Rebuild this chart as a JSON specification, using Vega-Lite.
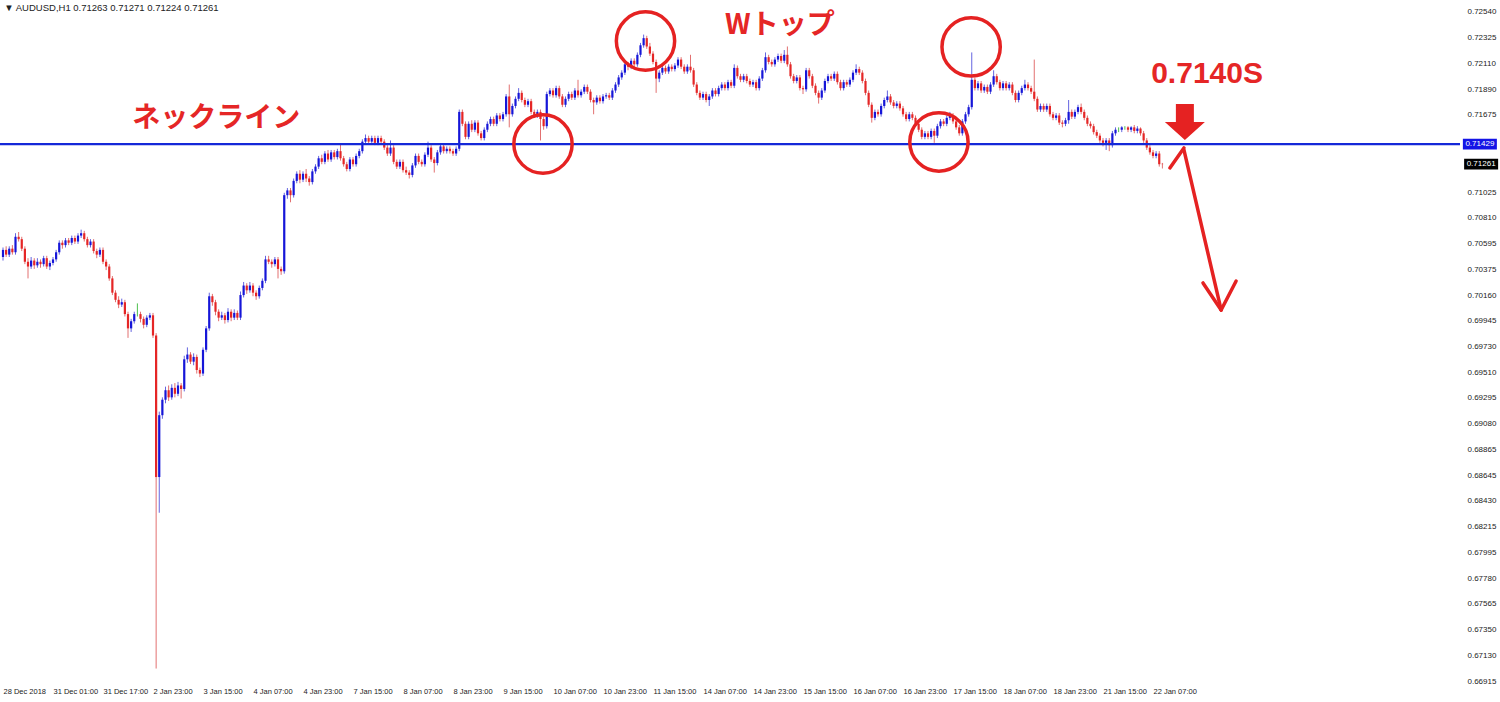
{
"$schema":"https://vega.github.io/schema/vega-lite/v6.json",
"width":1460,"height":682,
"autosize":{"type":"none"},
"padding":{"left":0,"top":2,"right":40,"bottom":18},
"background":"white",
"config":{"view":{"stroke":null},"axis":{"labelFont":"Liberation Sans","labelFontSize":8,"labelColor":"#222","grid":false,"ticks":false,"domain":false}},
"datasets":{
"bars":[
{"i":0,"o":0.7048,"h":0.7056,"l":0.7045,"c":0.7054},{"i":1,"o":0.7054,"h":0.7057,"l":0.7048,"c":0.7050},{"i":2,"o":0.7050,"h":0.7057,"l":0.7048,"c":0.7055},{"i":3,"o":0.7055,"h":0.7058,"l":0.7050,"c":0.7052},{"i":4,"o":0.7052,"h":0.7068,"l":0.7050,"c":0.7065},{"i":5,"o":0.7065,"h":0.7069,"l":0.7061,"c":0.7063},{"i":6,"o":0.7063,"h":0.7065,"l":0.7053,"c":0.7055},{"i":7,"o":0.7055,"h":0.7057,"l":0.7042,"c":0.7044},{"i":8,"o":0.7044,"h":0.7047,"l":0.7030,"c":0.7040},{"i":9,"o":0.7040,"h":0.7048,"l":0.7038,"c":0.7045},
{"i":10,"o":0.7045,"h":0.7047,"l":0.7038,"c":0.7041},{"i":11,"o":0.7041,"h":0.7047,"l":0.7039,"c":0.7044},{"i":12,"o":0.7044,"h":0.7046,"l":0.7039,"c":0.7042},{"i":13,"o":0.7042,"h":0.7049,"l":0.7040,"c":0.7047},{"i":14,"o":0.7047,"h":0.7049,"l":0.7038,"c":0.7040},{"i":15,"o":0.7040,"h":0.7045,"l":0.7037,"c":0.7043},{"i":16,"o":0.7043,"h":0.7048,"l":0.7041,"c":0.7046},{"i":17,"o":0.7046,"h":0.7054,"l":0.7044,"c":0.7052},{"i":18,"o":0.7052,"h":0.7062,"l":0.7050,"c":0.7060},{"i":19,"o":0.7060,"h":0.7062,"l":0.7055,"c":0.7058},
{"i":20,"o":0.7058,"h":0.7064,"l":0.7056,"c":0.7062},{"i":21,"o":0.7062,"h":0.7064,"l":0.7058,"c":0.7060},{"i":22,"o":0.7060,"h":0.7066,"l":0.7058,"c":0.7064},{"i":23,"o":0.7064,"h":0.7066,"l":0.7059,"c":0.7061},{"i":24,"o":0.7061,"h":0.7068,"l":0.7059,"c":0.7066},{"i":25,"o":0.7066,"h":0.7071,"l":0.7064,"c":0.7068},{"i":26,"o":0.7068,"h":0.7070,"l":0.7061,"c":0.7063},{"i":27,"o":0.7063,"h":0.7065,"l":0.7056,"c":0.7058},{"i":28,"o":0.7058,"h":0.7063,"l":0.7056,"c":0.7061},{"i":29,"o":0.7061,"h":0.7063,"l":0.7051,"c":0.7053},
{"i":30,"o":0.7053,"h":0.7055,"l":0.7047,"c":0.7050},{"i":31,"o":0.7050,"h":0.7056,"l":0.7048,"c":0.7054},{"i":32,"o":0.7054,"h":0.7056,"l":0.7042,"c":0.7044},{"i":33,"o":0.7044,"h":0.7046,"l":0.7037,"c":0.7040},{"i":34,"o":0.7040,"h":0.7042,"l":0.7028,"c":0.7030},{"i":35,"o":0.7030,"h":0.7032,"l":0.7016,"c":0.7018},{"i":36,"o":0.7018,"h":0.7020,"l":0.7010,"c":0.7012},{"i":37,"o":0.7012,"h":0.7015,"l":0.7005,"c":0.7008},{"i":38,"o":0.7008,"h":0.7013,"l":0.7006,"c":0.7010},{"i":39,"o":0.7010,"h":0.7012,"l":0.6998,"c":0.7000},
{"i":40,"o":0.7000,"h":0.7002,"l":0.6980,"c":0.6988},{"i":41,"o":0.6988,"h":0.6996,"l":0.6985,"c":0.6994},{"i":42,"o":0.6994,"h":0.7002,"l":0.6992,"c":0.7000},{"i":43,"o":0.7000,"h":0.7009,"l":0.6998,"c":0.7000},{"i":44,"o":0.7000,"h":0.7002,"l":0.6993,"c":0.6996},{"i":45,"o":0.6996,"h":0.6998,"l":0.6988,"c":0.6991},{"i":46,"o":0.6991,"h":0.6999,"l":0.6989,"c":0.6997},{"i":47,"o":0.6997,"h":0.7001,"l":0.6995,"c":0.6999},{"i":48,"o":0.6999,"h":0.7001,"l":0.6980,"c":0.6982},{"i":49,"o":0.6982,"h":0.6984,"l":0.6702,"c":0.6863},
{"i":50,"o":0.6863,"h":0.6918,"l":0.6833,"c":0.6915},{"i":51,"o":0.6915,"h":0.6930,"l":0.6912,"c":0.6928},{"i":52,"o":0.6928,"h":0.6939,"l":0.6925,"c":0.6936},{"i":53,"o":0.6936,"h":0.6940,"l":0.6927,"c":0.6930},{"i":54,"o":0.6930,"h":0.6941,"l":0.6928,"c":0.6938},{"i":55,"o":0.6938,"h":0.6942,"l":0.6930,"c":0.6933},{"i":56,"o":0.6933,"h":0.6943,"l":0.6931,"c":0.6940},{"i":57,"o":0.6940,"h":0.6942,"l":0.6929,"c":0.6937},{"i":58,"o":0.6937,"h":0.6965,"l":0.6935,"c":0.6962},{"i":59,"o":0.6962,"h":0.6972,"l":0.6959,"c":0.6966},
{"i":60,"o":0.6966,"h":0.6968,"l":0.6958,"c":0.6960},{"i":61,"o":0.6960,"h":0.6967,"l":0.6957,"c":0.6964},{"i":62,"o":0.6964,"h":0.6966,"l":0.6950,"c":0.6953},{"i":63,"o":0.6953,"h":0.6955,"l":0.6947,"c":0.6950},{"i":64,"o":0.6950,"h":0.6972,"l":0.6948,"c":0.6970},{"i":65,"o":0.6970,"h":0.6990,"l":0.6968,"c":0.6988},{"i":66,"o":0.6988,"h":0.7018,"l":0.6986,"c":0.7015},{"i":67,"o":0.7015,"h":0.7017,"l":0.7007,"c":0.7010},{"i":68,"o":0.7010,"h":0.7012,"l":0.6999,"c":0.7002},{"i":69,"o":0.7002,"h":0.7004,"l":0.6994,"c":0.6997},
{"i":70,"o":0.6997,"h":0.7002,"l":0.6995,"c":0.6999},{"i":71,"o":0.6999,"h":0.7001,"l":0.6992,"c":0.6995},{"i":72,"o":0.6995,"h":0.7005,"l":0.6993,"c":0.7002},{"i":73,"o":0.7002,"h":0.7004,"l":0.6994,"c":0.6997},{"i":74,"o":0.6997,"h":0.7004,"l":0.6995,"c":0.7001},{"i":75,"o":0.7001,"h":0.7003,"l":0.6995,"c":0.6997},{"i":76,"o":0.6997,"h":0.7019,"l":0.6995,"c":0.7016},{"i":77,"o":0.7016,"h":0.7027,"l":0.7014,"c":0.7024},{"i":78,"o":0.7024,"h":0.7026,"l":0.7017,"c":0.7020},{"i":79,"o":0.7020,"h":0.7027,"l":0.7018,"c":0.7024},
{"i":80,"o":0.7024,"h":0.7026,"l":0.7015,"c":0.7018},{"i":81,"o":0.7018,"h":0.7020,"l":0.7012,"c":0.7015},{"i":82,"o":0.7015,"h":0.7024,"l":0.7013,"c":0.7022},{"i":83,"o":0.7022,"h":0.7030,"l":0.7020,"c":0.7028},{"i":84,"o":0.7028,"h":0.7049,"l":0.7026,"c":0.7046},{"i":85,"o":0.7046,"h":0.7049,"l":0.7042,"c":0.7044},{"i":86,"o":0.7044,"h":0.7046,"l":0.7039,"c":0.7042},{"i":87,"o":0.7042,"h":0.7048,"l":0.7040,"c":0.7046},{"i":88,"o":0.7046,"h":0.7048,"l":0.7030,"c":0.7038},{"i":89,"o":0.7038,"h":0.7040,"l":0.7033,"c":0.7036},
{"i":90,"o":0.7036,"h":0.7102,"l":0.7034,"c":0.7100},{"i":91,"o":0.7100,"h":0.7106,"l":0.7097,"c":0.7104},{"i":92,"o":0.7104,"h":0.7106,"l":0.7094,"c":0.7100},{"i":93,"o":0.7100,"h":0.7114,"l":0.7098,"c":0.7112},{"i":94,"o":0.7112,"h":0.7120,"l":0.7110,"c":0.7118},{"i":95,"o":0.7118,"h":0.7121,"l":0.7110,"c":0.7113},{"i":96,"o":0.7113,"h":0.7120,"l":0.7111,"c":0.7118},{"i":97,"o":0.7118,"h":0.7122,"l":0.7111,"c":0.7114},{"i":98,"o":0.7114,"h":0.7116,"l":0.7108,"c":0.7111},{"i":99,"o":0.7111,"h":0.7122,"l":0.7109,"c":0.7120},
{"i":100,"o":0.7120,"h":0.7126,"l":0.7118,"c":0.7124},{"i":101,"o":0.7124,"h":0.7133,"l":0.7122,"c":0.7131},{"i":102,"o":0.7131,"h":0.7134,"l":0.7126,"c":0.7128},{"i":103,"o":0.7128,"h":0.7137,"l":0.7126,"c":0.7135},{"i":104,"o":0.7135,"h":0.7138,"l":0.7128,"c":0.7130},{"i":105,"o":0.7130,"h":0.7138,"l":0.7128,"c":0.7136},{"i":106,"o":0.7136,"h":0.7138,"l":0.7130,"c":0.7132},{"i":107,"o":0.7132,"h":0.7139,"l":0.7130,"c":0.7137},{"i":108,"o":0.7137,"h":0.7143,"l":0.7129,"c":0.7131},{"i":109,"o":0.7131,"h":0.7133,"l":0.7124,"c":0.7126},
{"i":110,"o":0.7126,"h":0.7128,"l":0.7120,"c":0.7122},{"i":111,"o":0.7122,"h":0.7132,"l":0.7120,"c":0.7130},{"i":112,"o":0.7130,"h":0.7132,"l":0.7124,"c":0.7126},{"i":113,"o":0.7126,"h":0.7135,"l":0.7124,"c":0.7133},{"i":114,"o":0.7133,"h":0.7139,"l":0.7131,"c":0.7137},{"i":115,"o":0.7137,"h":0.7147,"l":0.7135,"c":0.7145},{"i":116,"o":0.7145,"h":0.7151,"l":0.7143,"c":0.7148},{"i":117,"o":0.7148,"h":0.7150,"l":0.7143,"c":0.7145},{"i":118,"o":0.7145,"h":0.7150,"l":0.7143,"c":0.7148},{"i":119,"o":0.7148,"h":0.7150,"l":0.7142,"c":0.7144},
{"i":120,"o":0.7144,"h":0.7150,"l":0.7142,"c":0.7148},{"i":121,"o":0.7148,"h":0.7150,"l":0.7143,"c":0.7145},{"i":122,"o":0.7145,"h":0.7147,"l":0.7138,"c":0.7140},{"i":123,"o":0.7140,"h":0.7142,"l":0.7133,"c":0.7135},{"i":124,"o":0.7135,"h":0.7146,"l":0.7133,"c":0.7140},{"i":125,"o":0.7140,"h":0.7142,"l":0.7126,"c":0.7128},{"i":126,"o":0.7128,"h":0.7130,"l":0.7122,"c":0.7124},{"i":127,"o":0.7124,"h":0.7130,"l":0.7122,"c":0.7128},{"i":128,"o":0.7128,"h":0.7130,"l":0.7119,"c":0.7121},{"i":129,"o":0.7121,"h":0.7124,"l":0.7117,"c":0.7119},
{"i":130,"o":0.7119,"h":0.7121,"l":0.7114,"c":0.7117},{"i":131,"o":0.7117,"h":0.7127,"l":0.7115,"c":0.7125},{"i":132,"o":0.7125,"h":0.7135,"l":0.7123,"c":0.7133},{"i":133,"o":0.7133,"h":0.7135,"l":0.7126,"c":0.7128},{"i":134,"o":0.7128,"h":0.7130,"l":0.7124,"c":0.7126},{"i":135,"o":0.7126,"h":0.7136,"l":0.7124,"c":0.7134},{"i":136,"o":0.7134,"h":0.7145,"l":0.7132,"c":0.7140},{"i":137,"o":0.7140,"h":0.7142,"l":0.7128,"c":0.7130},{"i":138,"o":0.7130,"h":0.7132,"l":0.7119,"c":0.7127},{"i":139,"o":0.7127,"h":0.7138,"l":0.7125,"c":0.7136},
{"i":140,"o":0.7136,"h":0.7143,"l":0.7134,"c":0.7141},{"i":141,"o":0.7141,"h":0.7143,"l":0.7135,"c":0.7137},{"i":142,"o":0.7137,"h":0.7141,"l":0.7135,"c":0.7139},{"i":143,"o":0.7139,"h":0.7141,"l":0.7135,"c":0.7137},{"i":144,"o":0.7137,"h":0.7139,"l":0.7133,"c":0.7135},{"i":145,"o":0.7135,"h":0.7141,"l":0.7133,"c":0.7139},{"i":146,"o":0.7139,"h":0.7172,"l":0.7137,"c":0.7170},{"i":147,"o":0.7170,"h":0.7172,"l":0.7158,"c":0.7160},{"i":148,"o":0.7160,"h":0.7162,"l":0.7147,"c":0.7149},{"i":149,"o":0.7149,"h":0.7162,"l":0.7147,"c":0.7160},
{"i":150,"o":0.7160,"h":0.7163,"l":0.7153,"c":0.7155},{"i":151,"o":0.7155,"h":0.7163,"l":0.7153,"c":0.7161},{"i":152,"o":0.7161,"h":0.7163,"l":0.7150,"c":0.7152},{"i":153,"o":0.7152,"h":0.7154,"l":0.7146,"c":0.7148},{"i":154,"o":0.7148,"h":0.7157,"l":0.7146,"c":0.7155},{"i":155,"o":0.7155,"h":0.7162,"l":0.7153,"c":0.7160},{"i":156,"o":0.7160,"h":0.7166,"l":0.7158,"c":0.7164},{"i":157,"o":0.7164,"h":0.7166,"l":0.7158,"c":0.7160},{"i":158,"o":0.7160,"h":0.7169,"l":0.7158,"c":0.7167},{"i":159,"o":0.7167,"h":0.7169,"l":0.7162,"c":0.7164},
{"i":160,"o":0.7164,"h":0.7170,"l":0.7162,"c":0.7168},{"i":161,"o":0.7168,"h":0.7185,"l":0.7166,"c":0.7183},{"i":162,"o":0.7183,"h":0.7193,"l":0.7157,"c":0.7168},{"i":163,"o":0.7168,"h":0.7177,"l":0.7166,"c":0.7175},{"i":164,"o":0.7175,"h":0.7183,"l":0.7173,"c":0.7181},{"i":165,"o":0.7181,"h":0.7190,"l":0.7179,"c":0.7186},{"i":166,"o":0.7186,"h":0.7188,"l":0.7178,"c":0.7180},{"i":167,"o":0.7180,"h":0.7182,"l":0.7174,"c":0.7176},{"i":168,"o":0.7176,"h":0.7181,"l":0.7174,"c":0.7179},{"i":169,"o":0.7179,"h":0.7181,"l":0.7168,"c":0.7170},
{"i":170,"o":0.7170,"h":0.7172,"l":0.7165,"c":0.7167},{"i":171,"o":0.7167,"h":0.7172,"l":0.7165,"c":0.7170},{"i":172,"o":0.7170,"h":0.7172,"l":0.7146,"c":0.7164},{"i":173,"o":0.7164,"h":0.7166,"l":0.7155,"c":0.7158},{"i":174,"o":0.7158,"h":0.7187,"l":0.7156,"c":0.7185},{"i":175,"o":0.7185,"h":0.7190,"l":0.7183,"c":0.7188},{"i":176,"o":0.7188,"h":0.7190,"l":0.7182,"c":0.7184},{"i":177,"o":0.7184,"h":0.7192,"l":0.7182,"c":0.7190},{"i":178,"o":0.7190,"h":0.7192,"l":0.7181,"c":0.7183},{"i":179,"o":0.7183,"h":0.7185,"l":0.7174,"c":0.7176},
{"i":180,"o":0.7176,"h":0.7183,"l":0.7174,"c":0.7181},{"i":181,"o":0.7181,"h":0.7187,"l":0.7179,"c":0.7185},{"i":182,"o":0.7185,"h":0.7187,"l":0.7180,"c":0.7182},{"i":183,"o":0.7182,"h":0.7190,"l":0.7180,"c":0.7188},{"i":184,"o":0.7188,"h":0.7197,"l":0.7182,"c":0.7184},{"i":185,"o":0.7184,"h":0.7189,"l":0.7182,"c":0.7187},{"i":186,"o":0.7187,"h":0.7193,"l":0.7185,"c":0.7191},{"i":187,"o":0.7191,"h":0.7193,"l":0.7185,"c":0.7187},{"i":188,"o":0.7187,"h":0.7189,"l":0.7178,"c":0.7180},{"i":189,"o":0.7180,"h":0.7182,"l":0.7168,"c":0.7178},
{"i":190,"o":0.7178,"h":0.7184,"l":0.7176,"c":0.7182},{"i":191,"o":0.7182,"h":0.7184,"l":0.7177,"c":0.7179},{"i":192,"o":0.7179,"h":0.7185,"l":0.7177,"c":0.7183},{"i":193,"o":0.7183,"h":0.7186,"l":0.7181,"c":0.7184},{"i":194,"o":0.7184,"h":0.7186,"l":0.7180,"c":0.7182},{"i":195,"o":0.7182,"h":0.7190,"l":0.7180,"c":0.7188},{"i":196,"o":0.7188,"h":0.7195,"l":0.7186,"c":0.7193},{"i":197,"o":0.7193,"h":0.7201,"l":0.7191,"c":0.7199},{"i":198,"o":0.7199,"h":0.7205,"l":0.7197,"c":0.7203},{"i":199,"o":0.7203,"h":0.7212,"l":0.7201,"c":0.7210},
{"i":200,"o":0.7210,"h":0.7212,"l":0.7205,"c":0.7208},{"i":201,"o":0.7208,"h":0.7215,"l":0.7206,"c":0.7213},{"i":202,"o":0.7213,"h":0.7215,"l":0.7208,"c":0.7210},{"i":203,"o":0.7210,"h":0.7220,"l":0.7208,"c":0.7218},{"i":204,"o":0.7218,"h":0.7228,"l":0.7216,"c":0.7226},{"i":205,"o":0.7226,"h":0.7235,"l":0.7224,"c":0.7232},{"i":206,"o":0.7232,"h":0.7234,"l":0.7223,"c":0.7225},{"i":207,"o":0.7225,"h":0.7228,"l":0.7217,"c":0.7219},{"i":208,"o":0.7219,"h":0.7221,"l":0.7210,"c":0.7212},{"i":209,"o":0.7212,"h":0.7214,"l":0.7186,"c":0.7198},
{"i":210,"o":0.7198,"h":0.7205,"l":0.7195,"c":0.7203},{"i":211,"o":0.7203,"h":0.7209,"l":0.7201,"c":0.7207},{"i":212,"o":0.7207,"h":0.7209,"l":0.7202,"c":0.7204},{"i":213,"o":0.7204,"h":0.7210,"l":0.7202,"c":0.7208},{"i":214,"o":0.7208,"h":0.7210,"l":0.7204,"c":0.7206},{"i":215,"o":0.7206,"h":0.7211,"l":0.7204,"c":0.7209},{"i":216,"o":0.7209,"h":0.7216,"l":0.7207,"c":0.7214},{"i":217,"o":0.7214,"h":0.7216,"l":0.7206,"c":0.7208},{"i":218,"o":0.7208,"h":0.7210,"l":0.7202,"c":0.7204},{"i":219,"o":0.7204,"h":0.7210,"l":0.7202,"c":0.7208},
{"i":220,"o":0.7208,"h":0.7218,"l":0.7203,"c":0.7205},{"i":221,"o":0.7205,"h":0.7207,"l":0.7191,"c":0.7193},{"i":222,"o":0.7193,"h":0.7195,"l":0.7184,"c":0.7186},{"i":223,"o":0.7186,"h":0.7188,"l":0.7180,"c":0.7182},{"i":224,"o":0.7182,"h":0.7187,"l":0.7180,"c":0.7185},{"i":225,"o":0.7185,"h":0.7187,"l":0.7178,"c":0.7180},{"i":226,"o":0.7180,"h":0.7185,"l":0.7175,"c":0.7183},{"i":227,"o":0.7183,"h":0.7190,"l":0.7181,"c":0.7188},{"i":228,"o":0.7188,"h":0.7190,"l":0.7183,"c":0.7185},{"i":229,"o":0.7185,"h":0.7192,"l":0.7183,"c":0.7190},
{"i":230,"o":0.7190,"h":0.7195,"l":0.7188,"c":0.7193},{"i":231,"o":0.7193,"h":0.7195,"l":0.7188,"c":0.7190},{"i":232,"o":0.7190,"h":0.7197,"l":0.7188,"c":0.7195},{"i":233,"o":0.7195,"h":0.7197,"l":0.7190,"c":0.7192},{"i":234,"o":0.7192,"h":0.7210,"l":0.7190,"c":0.7207},{"i":235,"o":0.7207,"h":0.7209,"l":0.7198,"c":0.7200},{"i":236,"o":0.7200,"h":0.7202,"l":0.7195,"c":0.7197},{"i":237,"o":0.7197,"h":0.7202,"l":0.7195,"c":0.7200},{"i":238,"o":0.7200,"h":0.7202,"l":0.7194,"c":0.7196},{"i":239,"o":0.7196,"h":0.7198,"l":0.7191,"c":0.7193},
{"i":240,"o":0.7193,"h":0.7197,"l":0.7191,"c":0.7195},{"i":241,"o":0.7195,"h":0.7197,"l":0.7188,"c":0.7190},{"i":242,"o":0.7190,"h":0.7200,"l":0.7188,"c":0.7198},{"i":243,"o":0.7198,"h":0.7207,"l":0.7196,"c":0.7205},{"i":244,"o":0.7205,"h":0.7220,"l":0.7203,"c":0.7216},{"i":245,"o":0.7216,"h":0.7218,"l":0.7210,"c":0.7212},{"i":246,"o":0.7212,"h":0.7214,"l":0.7208,"c":0.7210},{"i":247,"o":0.7210,"h":0.7216,"l":0.7208,"c":0.7214},{"i":248,"o":0.7214,"h":0.7219,"l":0.7212,"c":0.7217},{"i":249,"o":0.7217,"h":0.7219,"l":0.7211,"c":0.7213},
{"i":250,"o":0.7213,"h":0.7222,"l":0.7211,"c":0.7218},{"i":251,"o":0.7218,"h":0.7225,"l":0.7208,"c":0.7210},{"i":252,"o":0.7210,"h":0.7212,"l":0.7198,"c":0.7200},{"i":253,"o":0.7200,"h":0.7202,"l":0.7194,"c":0.7196},{"i":254,"o":0.7196,"h":0.7201,"l":0.7194,"c":0.7199},{"i":255,"o":0.7199,"h":0.7201,"l":0.7188,"c":0.7190},{"i":256,"o":0.7190,"h":0.7192,"l":0.7185,"c":0.7189},{"i":257,"o":0.7189,"h":0.7207,"l":0.7187,"c":0.7205},{"i":258,"o":0.7205,"h":0.7207,"l":0.7198,"c":0.7200},{"i":259,"o":0.7200,"h":0.7202,"l":0.7190,"c":0.7192},
{"i":260,"o":0.7192,"h":0.7194,"l":0.7184,"c":0.7186},{"i":261,"o":0.7186,"h":0.7188,"l":0.7177,"c":0.7182},{"i":262,"o":0.7182,"h":0.7190,"l":0.7180,"c":0.7188},{"i":263,"o":0.7188,"h":0.7198,"l":0.7186,"c":0.7196},{"i":264,"o":0.7196,"h":0.7202,"l":0.7194,"c":0.7200},{"i":265,"o":0.7200,"h":0.7202,"l":0.7196,"c":0.7198},{"i":266,"o":0.7198,"h":0.7204,"l":0.7196,"c":0.7202},{"i":267,"o":0.7202,"h":0.7204,"l":0.7193,"c":0.7195},{"i":268,"o":0.7195,"h":0.7197,"l":0.7188,"c":0.7190},{"i":269,"o":0.7190,"h":0.7197,"l":0.7188,"c":0.7195},
{"i":270,"o":0.7195,"h":0.7197,"l":0.7191,"c":0.7193},{"i":271,"o":0.7193,"h":0.7199,"l":0.7191,"c":0.7197},{"i":272,"o":0.7197,"h":0.7205,"l":0.7195,"c":0.7203},{"i":273,"o":0.7203,"h":0.7210,"l":0.7201,"c":0.7206},{"i":274,"o":0.7206,"h":0.7208,"l":0.7201,"c":0.7203},{"i":275,"o":0.7203,"h":0.7205,"l":0.7194,"c":0.7196},{"i":276,"o":0.7196,"h":0.7198,"l":0.7184,"c":0.7186},{"i":277,"o":0.7186,"h":0.7188,"l":0.7174,"c":0.7176},{"i":278,"o":0.7176,"h":0.7178,"l":0.7161,"c":0.7165},{"i":279,"o":0.7165,"h":0.7172,"l":0.7163,"c":0.7170},
{"i":280,"o":0.7170,"h":0.7172,"l":0.7166,"c":0.7168},{"i":281,"o":0.7168,"h":0.7177,"l":0.7166,"c":0.7175},{"i":282,"o":0.7175,"h":0.7182,"l":0.7173,"c":0.7180},{"i":283,"o":0.7180,"h":0.7188,"l":0.7178,"c":0.7183},{"i":284,"o":0.7183,"h":0.7185,"l":0.7176,"c":0.7178},{"i":285,"o":0.7178,"h":0.7180,"l":0.7173,"c":0.7175},{"i":286,"o":0.7175,"h":0.7179,"l":0.7173,"c":0.7177},{"i":287,"o":0.7177,"h":0.7179,"l":0.7171,"c":0.7173},{"i":288,"o":0.7173,"h":0.7175,"l":0.7166,"c":0.7168},{"i":289,"o":0.7168,"h":0.7170,"l":0.7162,"c":0.7164},
{"i":290,"o":0.7164,"h":0.7170,"l":0.7162,"c":0.7168},{"i":291,"o":0.7168,"h":0.7170,"l":0.7163,"c":0.7165},{"i":292,"o":0.7165,"h":0.7167,"l":0.7158,"c":0.7160},{"i":293,"o":0.7160,"h":0.7162,"l":0.7153,"c":0.7155},{"i":294,"o":0.7155,"h":0.7157,"l":0.7147,"c":0.7149},{"i":295,"o":0.7149,"h":0.7154,"l":0.7147,"c":0.7152},{"i":296,"o":0.7152,"h":0.7154,"l":0.7147,"c":0.7149},{"i":297,"o":0.7149,"h":0.7156,"l":0.7147,"c":0.7154},{"i":298,"o":0.7154,"h":0.7156,"l":0.7144,"c":0.7150},{"i":299,"o":0.7150,"h":0.7160,"l":0.7148,"c":0.7158},
{"i":300,"o":0.7158,"h":0.7164,"l":0.7156,"c":0.7162},{"i":301,"o":0.7162,"h":0.7164,"l":0.7158,"c":0.7160},{"i":302,"o":0.7160,"h":0.7167,"l":0.7158,"c":0.7165},{"i":303,"o":0.7165,"h":0.7170,"l":0.7163,"c":0.7167},{"i":304,"o":0.7167,"h":0.7169,"l":0.7160,"c":0.7162},{"i":305,"o":0.7162,"h":0.7164,"l":0.7155,"c":0.7157},{"i":306,"o":0.7157,"h":0.7159,"l":0.7150,"c":0.7152},{"i":307,"o":0.7152,"h":0.7164,"l":0.7150,"c":0.7162},{"i":308,"o":0.7162,"h":0.7170,"l":0.7160,"c":0.7168},{"i":309,"o":0.7168,"h":0.7176,"l":0.7166,"c":0.7174},
{"i":310,"o":0.7174,"h":0.7220,"l":0.7172,"c":0.7197},{"i":311,"o":0.7197,"h":0.7199,"l":0.7188,"c":0.7190},{"i":312,"o":0.7190,"h":0.7196,"l":0.7188,"c":0.7194},{"i":313,"o":0.7194,"h":0.7196,"l":0.7186,"c":0.7188},{"i":314,"o":0.7188,"h":0.7193,"l":0.7186,"c":0.7191},{"i":315,"o":0.7191,"h":0.7193,"l":0.7185,"c":0.7187},{"i":316,"o":0.7187,"h":0.7195,"l":0.7185,"c":0.7193},{"i":317,"o":0.7193,"h":0.7205,"l":0.7191,"c":0.7200},{"i":318,"o":0.7200,"h":0.7202,"l":0.7193,"c":0.7195},{"i":319,"o":0.7195,"h":0.7197,"l":0.7188,"c":0.7190},
{"i":320,"o":0.7190,"h":0.7196,"l":0.7188,"c":0.7194},{"i":321,"o":0.7194,"h":0.7196,"l":0.7188,"c":0.7190},{"i":322,"o":0.7190,"h":0.7195,"l":0.7188,"c":0.7193},{"i":323,"o":0.7193,"h":0.7195,"l":0.7184,"c":0.7186},{"i":324,"o":0.7186,"h":0.7188,"l":0.7178,"c":0.7180},{"i":325,"o":0.7180,"h":0.7188,"l":0.7178,"c":0.7186},{"i":326,"o":0.7186,"h":0.7192,"l":0.7184,"c":0.7190},{"i":327,"o":0.7190,"h":0.7197,"l":0.7188,"c":0.7193},{"i":328,"o":0.7193,"h":0.7195,"l":0.7188,"c":0.7190},{"i":329,"o":0.7190,"h":0.7192,"l":0.7185,"c":0.7187},
{"i":330,"o":0.7187,"h":0.7214,"l":0.7179,"c":0.7181},{"i":331,"o":0.7181,"h":0.7183,"l":0.7170,"c":0.7172},{"i":332,"o":0.7172,"h":0.7177,"l":0.7170,"c":0.7175},{"i":333,"o":0.7175,"h":0.7177,"l":0.7170,"c":0.7172},{"i":334,"o":0.7172,"h":0.7177,"l":0.7170,"c":0.7175},{"i":335,"o":0.7175,"h":0.7177,"l":0.7166,"c":0.7168},{"i":336,"o":0.7168,"h":0.7170,"l":0.7163,"c":0.7165},{"i":337,"o":0.7165,"h":0.7169,"l":0.7163,"c":0.7167},{"i":338,"o":0.7167,"h":0.7169,"l":0.7159,"c":0.7161},{"i":339,"o":0.7161,"h":0.7163,"l":0.7157,"c":0.7160},
{"i":340,"o":0.7160,"h":0.7165,"l":0.7158,"c":0.7163},{"i":341,"o":0.7163,"h":0.7180,"l":0.7160,"c":0.7170},{"i":342,"o":0.7170,"h":0.7172,"l":0.7164,"c":0.7166},{"i":343,"o":0.7166,"h":0.7172,"l":0.7164,"c":0.7170},{"i":344,"o":0.7170,"h":0.7176,"l":0.7168,"c":0.7174},{"i":345,"o":0.7174,"h":0.7177,"l":0.7168,"c":0.7170},{"i":346,"o":0.7170,"h":0.7172,"l":0.7163,"c":0.7165},{"i":347,"o":0.7165,"h":0.7167,"l":0.7158,"c":0.7160},{"i":348,"o":0.7160,"h":0.7162,"l":0.7156,"c":0.7158},{"i":349,"o":0.7158,"h":0.7160,"l":0.7151,"c":0.7153},
{"i":350,"o":0.7153,"h":0.7155,"l":0.7148,"c":0.7150},{"i":351,"o":0.7150,"h":0.7152,"l":0.7144,"c":0.7146},{"i":352,"o":0.7146,"h":0.7148,"l":0.7141,"c":0.7144},{"i":353,"o":0.7144,"h":0.7148,"l":0.7138,"c":0.7146},{"i":354,"o":0.7146,"h":0.7148,"l":0.7137,"c":0.7142},{"i":355,"o":0.7142,"h":0.7154,"l":0.7140,"c":0.7152},{"i":356,"o":0.7152,"h":0.7157,"l":0.7150,"c":0.7155},{"i":357,"o":0.7155,"h":0.7157,"l":0.7153,"c":0.7155},{"i":358,"o":0.7155,"h":0.7158,"l":0.7153,"c":0.7157},{"i":359,"o":0.7157,"h":0.7158,"l":0.7155,"c":0.7157},
{"i":360,"o":0.7157,"h":0.7158,"l":0.7153,"c":0.7155},{"i":361,"o":0.7155,"h":0.7158,"l":0.7153,"c":0.7157},{"i":362,"o":0.7157,"h":0.7159,"l":0.7152,"c":0.7154},{"i":363,"o":0.7154,"h":0.7158,"l":0.7152,"c":0.7156},{"i":364,"o":0.7156,"h":0.7157,"l":0.7150,"c":0.7152},{"i":365,"o":0.7152,"h":0.7154,"l":0.7144,"c":0.7146},{"i":366,"o":0.7146,"h":0.7148,"l":0.7138,"c":0.7140},{"i":367,"o":0.7140,"h":0.7142,"l":0.7134,"c":0.7136},{"i":368,"o":0.7136,"h":0.7138,"l":0.7131,"c":0.7133},{"i":369,"o":0.7133,"h":0.7137,"l":0.7131,"c":0.7135},
{"i":370,"o":0.7135,"h":0.7137,"l":0.7124,"c":0.7126},{"i":371,"o":0.71263,"h":0.71271,"l":0.71224,"c":0.71261}
],
"circles":[{"i":205.6,"p":0.72296},{"i":172.8,"p":0.71430},{"i":309.8,"p":0.72246},{"i":299.5,"p":0.71447}],
"jp":[{"i":248.6,"p":0.72422,"t":"Wトップ"},{"i":68.2,"p":0.71640,"t":"ネックライン"}],
"target":[{"i":385.3,"p":0.72019,"t":"0.7140S"}],
"downarrow":[{"i":378.2,"p":0.71615}],
"arrowlines":[{"i":377.9,"p":0.71380,"i2":389.8,"p2":0.70035},{"i":384.0,"p":0.70262,"i2":389.8,"p2":0.70035},{"i":394.6,"p":0.70278,"i2":389.8,"p2":0.70035},{"i":373.4,"p":0.71229,"i2":377.9,"p2":0.71397}],
"neck":[{"p":0.71429}],
"tags":[{"i":472.6,"p":0.71429,"t":"0.71429","k":"line"},{"i":473.0,"p":0.71261,"t":"0.71261","k":"bid"}],
"header":[{"i":0.4,"p":0.72574,"t":"▼ AUDUSD,H1  0.71263 0.71271 0.71224 0.71261"}]
},
"layer":[
{"data":{"name":"bars"},"mark":{"type":"rule","strokeWidth":1},
 "encoding":{
  "x":{"field":"i","type":"quantitative","title":null,"scale":{"domain":[-0.96,466.24],"nice":false,"zero":false},
   "axis":{"orient":"bottom","tickCount":60,"labelFontSize":7.5,"values":[0,16,32,48,64,80,96,112,128,144,160,176,192,208,224,240,256,272,288,304,320,336,352,368],
    "labelExpr":"['28 Dec 2018','31 Dec 01:00','31 Dec 17:00','2 Jan 23:00','3 Jan 15:00','4 Jan 07:00','4 Jan 23:00','7 Jan 15:00','8 Jan 07:00','8 Jan 23:00','9 Jan 15:00','10 Jan 07:00','10 Jan 23:00','11 Jan 15:00','14 Jan 07:00','14 Jan 23:00','15 Jan 15:00','16 Jan 07:00','16 Jan 23:00','17 Jan 15:00','18 Jan 07:00','18 Jan 23:00','21 Jan 15:00','22 Jan 07:00'][round(datum.value/16)]",
    "labelAlign":"left","labelBaseline":"top","labelPadding":3,"labelOverlap":false,"labelBound":false,"labelFlush":false}},
  "y":{"field":"l","type":"quantitative","title":null,"scale":{"domain":[0.6689,0.72624],"nice":false,"zero":false},
   "axis":{"orient":"right","tickCount":60,"values":[0.7254,0.72325,0.7211,0.7189,0.71675,0.71025,0.7081,0.70595,0.70375,0.7016,0.69945,0.6973,0.6951,0.69295,0.6908,0.68865,0.68645,0.6843,0.68215,0.67995,0.6778,0.67565,0.6735,0.6713,0.66915],
    "format":".5f","labelAlign":"left","labelBaseline":"middle","labelPadding":7,"labelOverlap":false,"labelBound":false,"labelFlush":false}},
  "y2":{"field":"h"},
  "color":{"condition":[{"test":"datum.c>datum.o","value":"#6464e0"},{"test":"datum.c==datum.o","value":"#4cc04c"}],"value":"#e27070"}
 }},
{"data":{"name":"bars"},"mark":{"type":"rule","strokeWidth":2.2},
 "encoding":{
  "x":{"field":"i","type":"quantitative","title":null,"scale":{"domain":[-0.96,466.24],"nice":false,"zero":false}},
  "y":{"field":"o","type":"quantitative","title":null,"scale":{"domain":[0.6689,0.72624],"nice":false,"zero":false}},
  "y2":{"field":"c"},
  "color":{"condition":[{"test":"datum.c>datum.o","value":"#1616d8"},{"test":"datum.c==datum.o","value":"#3fbf3f"}],"value":"#e52626"}
 }},
{"data":{"name":"neck"},"mark":{"type":"rule","strokeWidth":2.4,"color":"#1428d8"},
 "encoding":{"y":{"field":"p","type":"quantitative","title":null,"scale":{"domain":[0.6689,0.72624],"nice":false,"zero":false}}}},
{"data":{"name":"circles"},"mark":{"type":"point","shape":"circle","filled":false,"size":3400,"strokeWidth":3.5,"color":"#e52222","opacity":1},
 "encoding":{
  "x":{"field":"i","type":"quantitative","title":null,"scale":{"domain":[-0.96,466.24],"nice":false,"zero":false}},
  "y":{"field":"p","type":"quantitative","title":null,"scale":{"domain":[0.6689,0.72624],"nice":false,"zero":false}}}},
{"data":{"name":"jp"},"mark":{"type":"text","font":"Noto Sans CJK JP","fontWeight":"bold","fontSize":28,"color":"#e52626","align":"center","baseline":"middle"},
 "encoding":{
  "x":{"field":"i","type":"quantitative","title":null,"scale":{"domain":[-0.96,466.24],"nice":false,"zero":false}},
  "y":{"field":"p","type":"quantitative","title":null,"scale":{"domain":[0.6689,0.72624],"nice":false,"zero":false}},
  "text":{"field":"t"}}},
{"data":{"name":"target"},"mark":{"type":"text","font":"Liberation Sans","fontWeight":"bold","fontSize":30,"color":"#e52626","align":"center","baseline":"middle"},
 "encoding":{
  "x":{"field":"i","type":"quantitative","title":null,"scale":{"domain":[-0.96,466.24],"nice":false,"zero":false}},
  "y":{"field":"p","type":"quantitative","title":null,"scale":{"domain":[0.6689,0.72624],"nice":false,"zero":false}},
  "text":{"field":"t"}}},
{"data":{"name":"downarrow"},"mark":{"type":"point","shape":"M -0.45 -0.9 L 0.45 -0.9 L 0.45 0 L 1 0 L 0 0.9 L -1 0 L -0.45 0 Z","filled":true,"size":1600,"color":"#e52222","opacity":1,"strokeWidth":0},
 "encoding":{
  "x":{"field":"i","type":"quantitative","title":null,"scale":{"domain":[-0.96,466.24],"nice":false,"zero":false}},
  "y":{"field":"p","type":"quantitative","title":null,"scale":{"domain":[0.6689,0.72624],"nice":false,"zero":false}}}},
{"data":{"name":"arrowlines"},"mark":{"type":"rule","strokeWidth":3.5,"color":"#e52222","strokeCap":"round"},
 "encoding":{
  "x":{"field":"i","type":"quantitative","title":null,"scale":{"domain":[-0.96,466.24],"nice":false,"zero":false}},
  "y":{"field":"p","type":"quantitative","title":null,"scale":{"domain":[0.6689,0.72624],"nice":false,"zero":false}},
  "x2":{"field":"i2"},"y2":{"field":"p2"}}},
{"data":{"name":"tags"},"mark":{"type":"point","shape":"M -1 -0.32 L 1 -0.32 L 1 0.32 L -1 0.32 Z","filled":true,"size":1156,"opacity":1,"strokeWidth":0},
 "encoding":{
  "x":{"field":"i","type":"quantitative","title":null,"scale":{"domain":[-0.96,466.24],"nice":false,"zero":false}},
  "y":{"field":"p","type":"quantitative","title":null,"scale":{"domain":[0.6689,0.72624],"nice":false,"zero":false}},
  "color":{"condition":{"test":"datum.k=='line'","value":"#1414e6"},"value":"#000000"}}},
{"data":{"name":"tags"},"mark":{"type":"text","font":"Liberation Sans","fontSize":8,"color":"#ffffff","align":"center","baseline":"middle"},
 "encoding":{
  "x":{"field":"i","type":"quantitative","title":null,"scale":{"domain":[-0.96,466.24],"nice":false,"zero":false}},
  "y":{"field":"p","type":"quantitative","title":null,"scale":{"domain":[0.6689,0.72624],"nice":false,"zero":false}},
  "text":{"field":"t"}}},
{"data":{"name":"header"},"mark":{"type":"text","font":"Liberation Sans","fontSize":9.5,"color":"#222222","align":"left","baseline":"middle"},
 "encoding":{
  "x":{"field":"i","type":"quantitative","title":null,"scale":{"domain":[-0.96,466.24],"nice":false,"zero":false}},
  "y":{"field":"p","type":"quantitative","title":null,"scale":{"domain":[0.6689,0.72624],"nice":false,"zero":false}},
  "text":{"field":"t"}}}
]
}
